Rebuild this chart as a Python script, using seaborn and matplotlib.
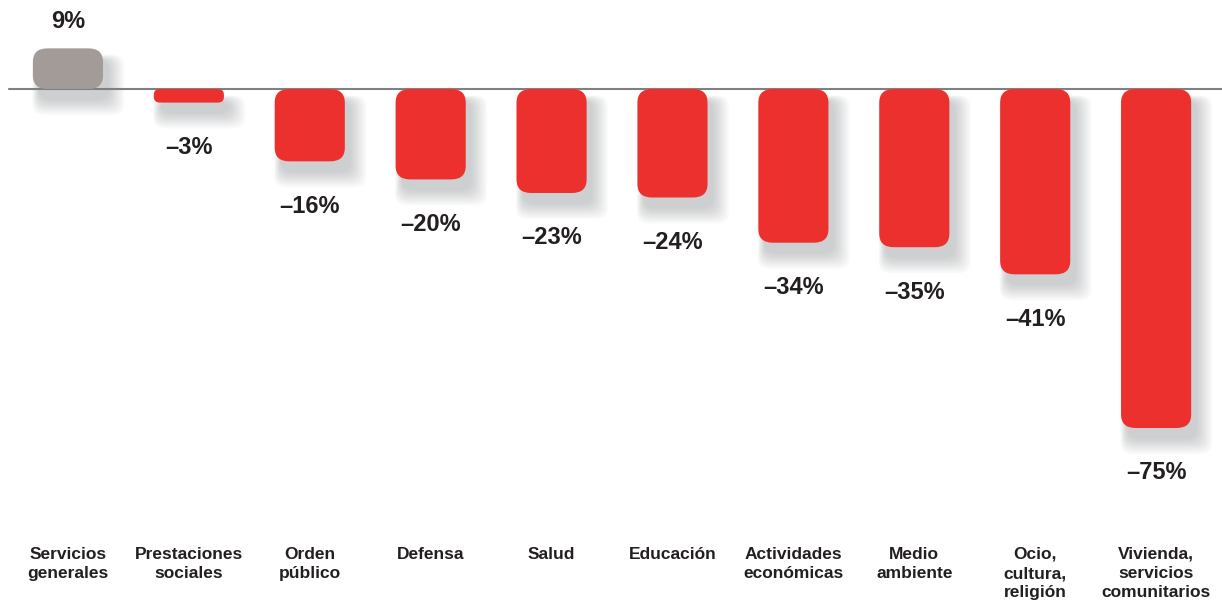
import numpy as np
import pandas as pd
import seaborn as sns
import matplotlib.pyplot as plt
from matplotlib.patches import FancyBboxPatch

# Data
categories = [
    "Servicios\ngenerales",
    "Prestaciones\nsociales",
    "Orden\npúblico",
    "Defensa",
    "Salud",
    "Educación",
    "Actividades\neconómicas",
    "Medio\nambiente",
    "Ocio,\ncultura,\nreligión",
    "Vivienda,\nservicios\ncomunitarios",
]
values = [9, -3, -16, -20, -23, -24, -34, -35, -41, -75]
value_labels = ["9%", "–3%", "–16%", "–20%", "–23%", "–24%", "–34%", "–35%", "–41%", "–75%"]

red = "#ec302e"
grey = "#a39b97"
text_color = "#231f20"

df = pd.DataFrame({"cat": categories, "val": values})
df["color"] = [grey if v > 0 else red for v in values]

sns.set_style("white")
plt.rcParams["font.family"] = ["Liberation Sans", "DejaVu Sans"]

fig = plt.figure(figsize=(12.22, 6.02), dpi=100)
ax = fig.add_axes([0, 0, 1, 1])

sns.barplot(data=df, x="cat", y="val", hue="cat", palette=list(df["color"]),
            legend=False, width=0.58, saturation=1, ax=ax)

# swap square bars for rounded ones with a soft shadow
for patch, v in zip(list(ax.patches), values):
    x0, y0 = patch.get_x(), patch.get_y()
    w, h = patch.get_width(), patch.get_height()
    fc = patch.get_facecolor()
    patch.remove()
    bottom, height = min(y0, y0 + h), abs(h)
    # shadow layers
    for k in range(10):
        s = k * 0.04
        sh = FancyBboxPatch((x0 + 0.05 - s * 0.15, bottom - 2.5 - s * 9),
                            w + s * 0.5, height + s * 12,
                            boxstyle="round,pad=0,rounding_size=0.1",
                            mutation_aspect=25, fc="#5a5f66", ec="none",
                            alpha=0.03, zorder=1)
        ax.add_patch(sh)
    box = FancyBboxPatch((x0, bottom), w, height,
                         boxstyle="round,pad=0,rounding_size=%f" % min(0.12, height / 60),
                         mutation_aspect=25, fc=fc, ec="none", zorder=3)
    ax.add_patch(box)

ax.axhline(0, xmin=0.007, xmax=1, color="#808080", lw=1.5, zorder=2)

for i, (v, lab) in enumerate(zip(values, value_labels)):
    if v > 0:
        ax.annotate(lab, (i, v), xytext=(0, 11), textcoords="offset points",
                    ha="center", va="bottom", fontsize=17, fontweight="bold",
                    color=text_color)
    else:
        ax.annotate(lab, (i, v), xytext=(0, -24), textcoords="offset points",
                    ha="center", va="top", fontsize=17, fontweight="bold",
                    color=text_color)

for i, cat in enumerate(categories):
    ax.text(i, -101.3, cat, ha="center", va="top", fontsize=12.5,
            fontweight="bold", color=text_color, linespacing=1.35)

ax.set_xlim(-0.562, 9.545)
ax.set_ylim(-113.5, 19.7)
ax.set_axis_off()

fig.savefig("out.png", dpi=100)
